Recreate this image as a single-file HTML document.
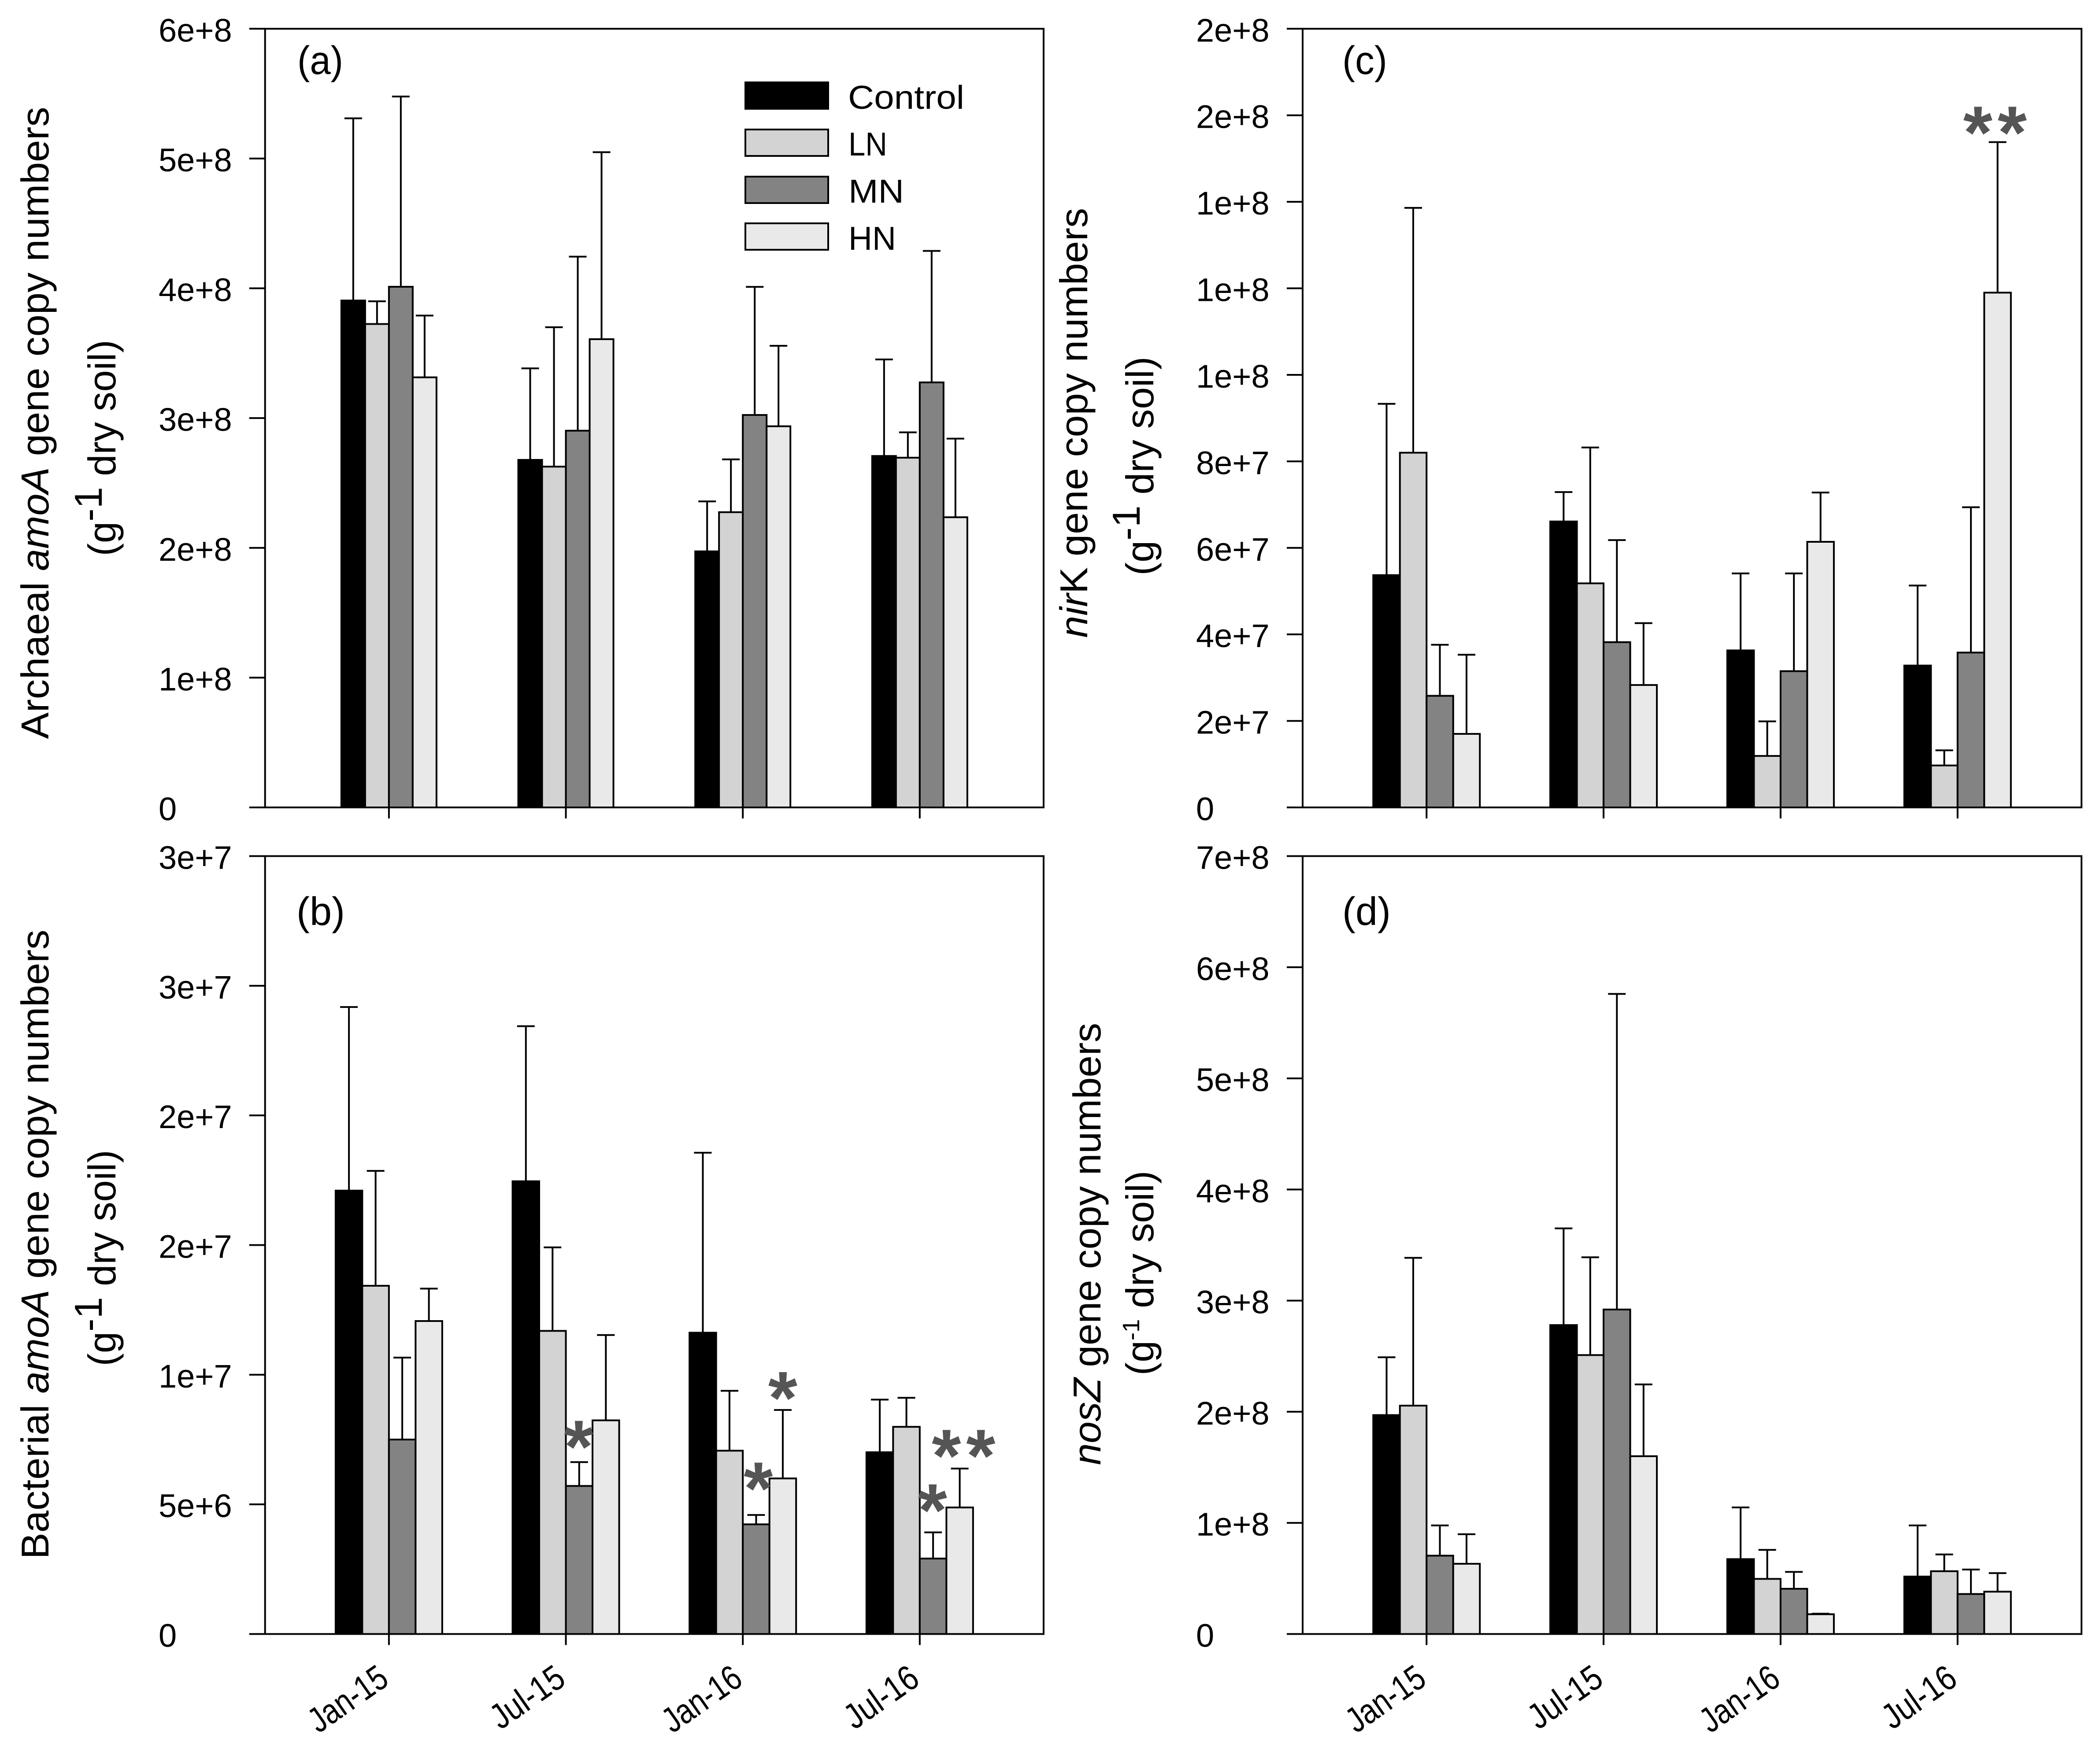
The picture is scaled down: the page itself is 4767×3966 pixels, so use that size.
<!DOCTYPE html>
<html lang="en">
<head>
<meta charset="utf-8">
<title>Gene copy numbers by nitrogen treatment</title>
<style>
html,body{margin:0;padding:0;background:#fff;}
svg{display:block;}
text{font-family:"Liberation Sans",sans-serif;fill:#000;}
</style>
</head>
<body>
<svg id="figure" xmlns="http://www.w3.org/2000/svg" width="4767" height="3966" viewBox="0 0 4767 3966">
  <rect x="0" y="0" width="4767" height="3966" fill="#ffffff"/>

  <g id="panel-a"></g>
  <g id="panel-b"></g>
  <g id="panel-c"></g>
  <g id="panel-d"></g>

  <text x="675" y="168" font-size="90" textLength="104" lengthAdjust="spacingAndGlyphs">(a)</text>
  <text x="673" y="2100" font-size="90" textLength="110" lengthAdjust="spacingAndGlyphs">(b)</text>
  <text x="3047" y="168" font-size="90" textLength="102" lengthAdjust="spacingAndGlyphs">(c)</text>
  <text x="3047" y="2100" font-size="90" textLength="110" lengthAdjust="spacingAndGlyphs">(d)</text>

  <text transform="translate(110,960) rotate(-90)" text-anchor="middle" font-size="88" textLength="1435" lengthAdjust="spacingAndGlyphs">Archaeal <tspan font-style="italic">amoA</tspan> gene copy numbers</text>
  <text transform="translate(262,1017) rotate(-90)" text-anchor="middle" font-size="88" textLength="491" lengthAdjust="spacingAndGlyphs">(g<tspan dy="-31">-1</tspan><tspan dy="31"> dry soil)</tspan></text>

  <text transform="translate(110,2825) rotate(-90)" text-anchor="middle" font-size="88" textLength="1429" lengthAdjust="spacingAndGlyphs">Bacterial <tspan font-style="italic">amoA</tspan> gene copy numbers</text>
  <text transform="translate(262,2856) rotate(-90)" text-anchor="middle" font-size="88" textLength="491" lengthAdjust="spacingAndGlyphs">(g<tspan dy="-31">-1</tspan><tspan dy="31"> dry soil)</tspan></text>

  <text transform="translate(2468,960) rotate(-90)" text-anchor="middle" font-size="88" textLength="976" lengthAdjust="spacingAndGlyphs"><tspan font-style="italic">nir</tspan>K gene copy numbers</text>
  <text transform="translate(2618,1058) rotate(-90)" text-anchor="middle" font-size="88" textLength="497" lengthAdjust="spacingAndGlyphs">(g<tspan dy="-31">-1</tspan><tspan dy="31"> dry soil)</tspan></text>

  <text transform="translate(2498,2824) rotate(-90)" text-anchor="middle" font-size="88" textLength="1004" lengthAdjust="spacingAndGlyphs"><tspan font-style="italic">nosZ</tspan> gene copy numbers</text>
  <text transform="translate(2618,2890) rotate(-90)" text-anchor="middle" font-size="88" textLength="465" lengthAdjust="spacingAndGlyphs">(g<tspan dy="-32" font-size="54">-1</tspan><tspan dy="32"> dry soil)</tspan></text>

  <g>
    <rect x="1692" y="187" width="188" height="60" fill="#000000" stroke="#000" stroke-width="4"/>
    <text x="1925" y="247" font-size="75" textLength="264" lengthAdjust="spacingAndGlyphs">Control</text>
    <rect x="1692" y="294" width="188" height="60" fill="#d3d3d3" stroke="#000" stroke-width="4"/>
    <text x="1926" y="353" font-size="75" textLength="88" lengthAdjust="spacingAndGlyphs">LN</text>
    <rect x="1692" y="401" width="188" height="60" fill="#838383" stroke="#000" stroke-width="4"/>
    <text x="1926" y="460" font-size="75" textLength="126" lengthAdjust="spacingAndGlyphs">MN</text>
    <rect x="1692" y="507" width="188" height="60" fill="#e9e9e9" stroke="#000" stroke-width="4"/>
    <text x="1926" y="567" font-size="75" textLength="108" lengthAdjust="spacingAndGlyphs">HN</text>
  </g>
</svg>

<script>
// Shared category and series labels
const categories = ['Jan-15', 'Jul-15', 'Jan-16', 'Jul-16'];
const seriesNames = ['control', 'ln', 'mn', 'hn'];

// Panel (a) Archaeal amoA: means and upper error magnitudes
const aControl = [3.906e8, 2.678e8, 1.973e8, 2.708e8];
const aLN = [3.725e8, 2.626e8, 2.275e8, 2.695e8];
const aMN = [4.012e8, 2.903e8, 3.024e8, 3.275e8];
const aHN = [3.314e8, 3.608e8, 2.937e8, 2.236e8];
const aControlErr = [1.404e8, 0.705e8, 0.385e8, 0.744e8];
const aLNErr = [0.175e8, 1.074e8, 0.407e8, 0.195e8];
const aMNErr = [1.466e8, 1.341e8, 0.987e8, 1.013e8];
const aHNErr = [0.476e8, 1.441e8, 0.620e8, 0.606e8];
const aTickValues = [0, 1e8, 2e8, 3e8, 4e8, 5e8, 6e8];
const aTickLabels = ['0', '1e+8', '2e+8', '3e+8', '4e+8', '5e+8', '6e+8'];

// Panel (b) Bacterial amoA
const bControl = [1.71e7, 1.746e7, 1.162e7, 0.701e7];
const bLN = [1.343e7, 1.169e7, 0.707e7, 0.799e7];
const bMN = [0.75e7, 0.571e7, 0.423e7, 0.291e7];
const bHN = [1.207e7, 0.824e7, 0.6e7, 0.488e7];
const bControlErr = [0.708e7, 0.598e7, 0.694e7, 0.203e7];
const bLNErr = [0.443e7, 0.322e7, 0.231e7, 0.112e7];
const bMNErr = [0.316e7, 0.092e7, 0.036e7, 0.101e7];
const bHNErr = [0.125e7, 0.329e7, 0.264e7, 0.15e7];
const bTickValues = [0, 5e6, 1e7, 1.5e7, 2e7, 2.5e7, 3e7];
const bTickLabels = ['0', '5e+6', '1e+7', '2e+7', '2e+7', '3e+7', '3e+7'];
const bStarGroup = [1, 2, 2, 3, 3, 3];
const bStarBars = [0.48, 1.5, 0.58, 0.48, 1, 2.29];
const bStarValue = [7.54e6, 9.42e6, 5.93e6, 5.09e6, 7.19e6, 7.19e6];

// Panel (c) nirK
const cControl = [5.37e7, 6.61e7, 3.63e7, 3.28e7];
const cLN = [8.2e7, 5.18e7, 1.19e7, 0.97e7];
const cMN = [2.58e7, 3.82e7, 3.15e7, 3.58e7];
const cHN = [1.7e7, 2.83e7, 6.14e7, 11.9e7];
const cControlErr = [3.96e7, 0.68e7, 1.78e7, 1.85e7];
const cLNErr = [5.66e7, 3.14e7, 0.8e7, 0.35e7];
const cMNErr = [1.18e7, 2.36e7, 2.26e7, 3.36e7];
const cHNErr = [1.83e7, 1.43e7, 1.14e7, 3.48e7];
const cTickValues = [0, 2e7, 4e7, 6e7, 8e7, 10e7, 12e7, 14e7, 16e7, 18e7];
const cTickLabels = ['0', '2e+7', '4e+7', '6e+7', '8e+7', '1e+8', '1e+8', '1e+8', '2e+8', '2e+8'];
const cStarGroup = [3, 3];
const cStarBars = [0.76, 2.05];
const cStarValue = [15.79e7, 15.79e7];

// Panel (d) nosZ
const dControl = [1.97e8, 2.78e8, 0.674e8, 0.517e8];
const dLN = [2.055e8, 2.51e8, 0.496e8, 0.565e8];
const dMN = [0.705e8, 2.92e8, 0.407e8, 0.36e8];
const dHN = [0.632e8, 1.6e8, 0.178e8, 0.381e8];
const dControlErr = [0.52e8, 0.87e8, 0.465e8, 0.46e8];
const dLNErr = [1.33e8, 0.88e8, 0.261e8, 0.151e8];
const dMNErr = [0.272e8, 2.84e8, 0.152e8, 0.22e8];
const dHNErr = [0.266e8, 0.646e8, 0.005e8, 0.167e8];
const dTickValues = [0, 1e8, 2e8, 3e8, 4e8, 5e8, 6e8, 7e8];
const dTickLabels = ['0', '1e+8', '2e+8', '3e+8', '4e+8', '5e+8', '6e+8', '7e+8'];

const SVG_NS = 'http://www.w3.org/2000/svg';
const seriesFill = ['#000000', '#d3d3d3', '#838383', '#e9e9e9'];

function make(parent, tag, attrs) {
  const el = document.createElementNS(SVG_NS, tag);
  for (const k in attrs) el.setAttribute(k, attrs[k]);
  parent.appendChild(el);
  return el;
}

function drawPanel(cfg) {
  const root = document.getElementById(cfg.id);
  const left = cfg.left, right = cfg.right, top = cfg.top, bottom = cfg.bottom;
  const yMax = cfg.ticks[cfg.ticks.length - 1];
  const xScale = function (i) { return left + (i + 0.7) * (right - left) / 4.4; };
  const yScale = function (v) { return bottom - (v / yMax) * (bottom - top); };
  const barWidth = cfg.barWidth;

  // bars
  cfg.means.forEach(function (series, s) {
    series.forEach(function (v, i) {
      const x = xScale(i) + (s - 2) * barWidth;
      const bar = make(root, 'rect', {
        x: x, y: yScale(v), width: barWidth, height: bottom - yScale(v),
        fill: seriesFill[s], stroke: '#000', 'stroke-width': 4
      });
      
      
    });
  });

  // error bars
  cfg.errors.forEach(function (series, s) {
    series.forEach(function (e, i) {
      const cx = xScale(i) + (s - 1.5) * barWidth;
      const yBase = yScale(cfg.means[s][i]);
      const yTop = yScale(cfg.means[s][i] + e);
      const stem = make(root, 'line', { x1: cx, x2: cx, y1: yBase, y2: yTop, stroke: '#000', 'stroke-width': 4 });
      
      
      const cap = make(root, 'line', { x1: cx - 20, x2: cx + 20, y1: yTop, y2: yTop, stroke: '#000', 'stroke-width': 4 });
      
      
    });
  });

  // plot frame
  const frame = make(root, 'rect', { x: left, y: top, width: right - left, height: bottom - top, fill: 'none', stroke: '#000', 'stroke-width': 4 });
  
  

  // y axis ticks and labels
  cfg.ticks.forEach(function (t, k) {
    const y = yScale(t);
    const tick = make(root, 'line', { x1: left - 36, x2: left, y1: y, y2: y, stroke: '#000', 'stroke-width': 4 });
    
    
    const label = make(root, 'text', { x: cfg.labelX, y: y + 29, 'font-size': 74 });
    label.textContent = cfg.tickLabels[k];
    
    
  });

  // x axis ticks and category labels
  categories.forEach(function (c, i) {
    const x = xScale(i);
    const tick = make(root, 'line', { x1: x, x2: x, y1: bottom, y2: bottom + 25, stroke: '#000', 'stroke-width': 4 });
    
    
    if (cfg.showLabels) {
      const len = c.indexOf('Jul') === 0 ? 186 : 200;
      const label = make(root, 'text', {
        transform: 'translate(' + (x + 4) + ',' + (bottom + 112) + ') rotate(-35)',
        'text-anchor': 'end', 'font-size': 80, textLength: len, lengthAdjust: 'spacingAndGlyphs'
      });
      label.textContent = c;
      
      
    }
  });

  // significance markers
  (cfg.starGroup || []).forEach(function (g, k) {
    const cx = xScale(g) + cfg.starBars[k] * barWidth;
    const cy = yScale(cfg.starValue[k]);
    const star = make(root, 'text', {
      x: cx, y: cy + 77, 'text-anchor': 'middle', 'font-size': 170, 'font-weight': 'bold', style: 'fill:#555555'
    });
    star.textContent = '*';
    
    
  });
}

drawPanel({
  id: 'panel-a', left: 601.7, right: 2369, top: 65.3, bottom: 1833, labelX: 360, barWidth: 54, showLabels: false,
  means: [aControl, aLN, aMN, aHN], errors: [aControlErr, aLNErr, aMNErr, aHNErr],
  ticks: aTickValues, tickLabels: aTickLabels
});
drawPanel({
  id: 'panel-b', left: 601.7, right: 2369, top: 1943.5, bottom: 3709.5, labelX: 360, barWidth: 60.5, showLabels: true,
  means: [bControl, bLN, bMN, bHN], errors: [bControlErr, bLNErr, bMNErr, bHNErr],
  ticks: bTickValues, tickLabels: bTickLabels,
  starGroup: bStarGroup, starBars: bStarBars, starValue: bStarValue
});
drawPanel({
  id: 'panel-c', left: 2957, right: 4725, top: 65.3, bottom: 1833, labelX: 2715, barWidth: 60.5, showLabels: false,
  means: [cControl, cLN, cMN, cHN], errors: [cControlErr, cLNErr, cMNErr, cHNErr],
  ticks: cTickValues, tickLabels: cTickLabels,
  starGroup: cStarGroup, starBars: cStarBars, starValue: cStarValue
});
drawPanel({
  id: 'panel-d', left: 2957, right: 4725, top: 1943.5, bottom: 3709.5, labelX: 2715, barWidth: 60.5, showLabels: true,
  means: [dControl, dLN, dMN, dHN], errors: [dControlErr, dLNErr, dMNErr, dHNErr],
  ticks: dTickValues, tickLabels: dTickLabels
});
</script>
</body>
</html>
